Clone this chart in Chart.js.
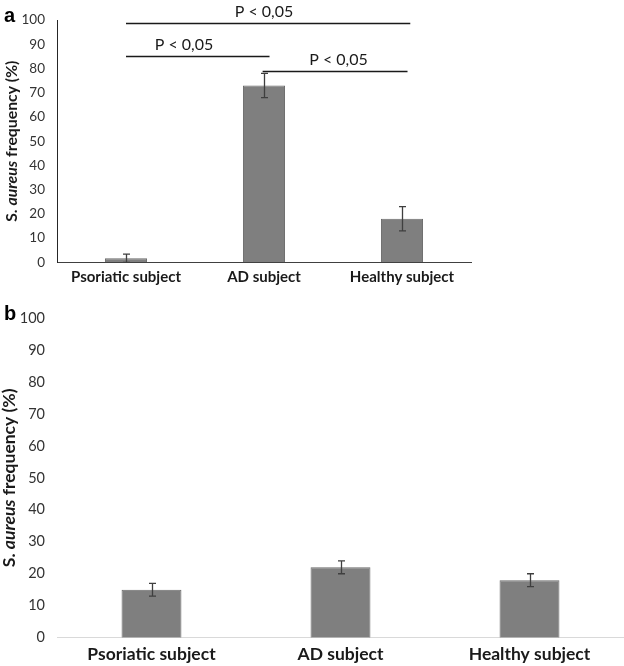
<!DOCTYPE html>
<html>
<head>
<meta charset="utf-8">
<script src="https://cdn.jsdelivr.net/npm/chart.js@4.4.1/dist/chart.umd.min.js"></script>
<style>
  html, body { margin: 0; padding: 0; background: #fff; }
  #wrap { position: relative; width: 624px; height: 666px; }
  .pane { position: absolute; left: 0; width: 624px; }
</style>
</head>
<body>
<div id="wrap">
  <div class="pane" style="top:0;height:292px"><canvas id="chartA" width="624" height="292"></canvas></div>
  <div class="pane" style="top:292px;height:374px"><canvas id="chartB" width="624" height="374"></canvas></div>
</div>
<script>
// data
const groups = ['Psoriatic subject', 'AD subject', 'Healthy subject'];
const freqA = [1.7, 73, 18];
const errA = [1.7, 5, 5];
const freqB = [15, 22, 18];
const errB = [2, 2, 2];
const yMin = 0, yMax = 100, yStep = 10;

// significance brackets on panel a (category positions, y level)
const sigText = 'P < 0,05';
const sigFrom = [0, 0, 0.99];
const sigTo = [2.06, 1.04, 2.04];
const sigLevel = [99, 85, 79];
const sigTextAt = [1.0, 0.42, 1.54];

const FONT = 'Lato';
const BAR = '#7f7f7f';
const BAR_EDGE = '#6a6a6a';
const ERR = '#3f3f3f';

function catPx(xs, pos) {
  const a = xs.getPixelForValue(0), b = xs.getPixelForValue(1);
  return a + (b - a) * pos;
}

const errorBars = {
  id: 'errorBars',
  afterDatasetsDraw(chart, args, opts) {
    const { ctx } = chart;
    const ys = chart.scales.y;
    const meta = chart.getDatasetMeta(0);
    const vals = chart.data.datasets[0].data;
    ctx.save();
    ctx.strokeStyle = ERR;
    ctx.lineWidth = 1.3;
    meta.data.forEach((bar, i) => {
      const x = Math.round(bar.x) + 0.5;
      const t = ys.getPixelForValue(vals[i] + opts.err[i]);
      const b = ys.getPixelForValue(Math.max(0, vals[i] - opts.err[i]));
      ctx.beginPath();
      ctx.moveTo(x, t); ctx.lineTo(x, b);
      ctx.moveTo(x - 3.5, t); ctx.lineTo(x + 3.5, t);
      ctx.moveTo(x - 3.5, b); ctx.lineTo(x + 3.5, b);
      ctx.stroke();
    });
    ctx.restore();
  }
};

const decor = {
  id: 'decor',
  afterDraw(chart, args, opts) {
    const { ctx, chartArea } = chart;
    ctx.save();
    // panel letter
    ctx.fillStyle = '#000';
    ctx.font = 'bold 20px "Liberation Sans"';
    ctx.textBaseline = 'alphabetic';
    ctx.textAlign = 'left';
    ctx.fillText(opts.letter, 4, opts.letterY);

    // y title with italic species name
    const parts = [['S. ', 'bold'], ['aureus', 'italic bold'], [' frequency (%)', 'bold']];
    const sz = opts.titleSize;
    let total = 0;
    parts.forEach(p => { ctx.font = p[1] + ' ' + sz + 'px ' + FONT; total += ctx.measureText(p[0]).width; });
    ctx.translate(opts.titleX, (chartArea.top + chartArea.bottom) / 2);
    ctx.rotate(-Math.PI / 2);
    ctx.textBaseline = 'middle';
    ctx.fillStyle = '#1a1a1a';
    let x = -total / 2;
    parts.forEach(p => {
      ctx.font = p[1] + ' ' + sz + 'px ' + FONT;
      ctx.fillText(p[0], x, 0);
      x += ctx.measureText(p[0]).width;
    });
    ctx.restore();
  }
};

const brackets = {
  id: 'brackets',
  afterDraw(chart) {
    const { ctx } = chart;
    const xs = chart.scales.x, ys = chart.scales.y;
    ctx.save();
    ctx.strokeStyle = '#1a1a1a';
    ctx.lineWidth = 1.3;
    ctx.fillStyle = '#1a1a1a';
    ctx.font = '16px ' + FONT;
    ctx.textAlign = 'center';
    ctx.textBaseline = 'middle';
    sigLevel.forEach((lv, i) => {
      const y = Math.round(ys.getPixelForValue(lv)) + 0.5;
      ctx.beginPath();
      ctx.moveTo(catPx(xs, sigFrom[i]), y);
      ctx.lineTo(catPx(xs, sigTo[i]), y);
      ctx.stroke();
      ctx.fillText(sigText, catPx(xs, sigTextAt[i]), y - 12);
    });
    ctx.restore();
  }
};

function makeChart(id, vals, errs, o) {
  return new Chart(document.getElementById(id), {
    type: 'bar',
    data: {
      labels: groups,
      datasets: [{
        data: vals,
        backgroundColor: BAR,
        borderColor: BAR_EDGE,
        borderWidth: 1,
        barPercentage: o.barPct,
        categoryPercentage: 1
      }]
    },
    options: {
      responsive: false,
      animation: false,
      events: [],
      layout: { padding: { top: o.padTop, right: o.padRight, left: 0, bottom: 0 } },
      plugins: {
        legend: { display: false },
        tooltip: { enabled: false },
        errorBars: { err: errs },
        decor: { letter: o.letter, letterY: o.letterY, titleX: o.titleX, titleSize: o.titleSize }
      },
      scales: {
        x: {
          grid: { display: false, drawTicks: false },
          border: { display: true, color: o.xAxisColor, width: 1 },
          ticks: { color: '#1a1a1a', padding: o.xPad, font: { family: FONT, size: o.xSize, weight: 'bold' } },
          afterFit: s => { s.height = o.xHeight; }
        },
        y: {
          min: yMin, max: yMax,
          grid: { display: false, drawTicks: false },
          border: { display: o.yAxis, color: '#262626', width: 1 },
          ticks: { stepSize: yStep, color: '#333', padding: 12, font: { family: FONT, size: o.ySize } },
          afterFit: s => { s.width = 57; }
        }
      }
    },
    plugins: o.extra ? [errorBars, decor, brackets] : [errorBars, decor]
  });
}

makeChart('chartA', freqA, errA, {
  barPct: 0.305, padTop: 18, padRight: 153, xHeight: 29.7, xPad: 6,
  xAxisColor: '#404040', yAxis: true, xSize: 15, ySize: 13.5,
  letter: 'a', letterY: 22, titleX: 12, titleSize: 15.8, extra: true
});

makeChart('chartB', freqB, errB, {
  barPct: 0.317, padTop: 26, padRight: 0, xHeight: 28.3, xPad: 6,
  xAxisColor: '#d9d9d9', yAxis: false, xSize: 17.5, ySize: 14.5,
  letter: 'b', letterY: 28, titleX: 9, titleSize: 17.5, extra: false
});
</script>
</body>
</html>
